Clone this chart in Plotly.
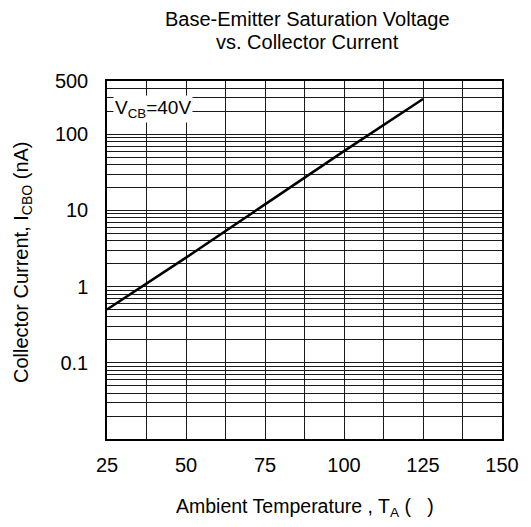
import plotly.graph_objects as go

# Data
temperature = [25, 50, 75, 100, 125]          # Ambient temperature (°C)
icbo_na = [0.5, 2.4, 12, 60, 290]              # Collector cutoff current (nA)

x_tick_vals = [25, 50, 75, 100, 125, 150]
x_minor_vals = [37.5, 62.5, 87.5, 112.5, 137.5]
y_tick_vals = [0.1, 1, 10, 100, 500]
y_tick_text = ["0.1", "1", "10", "100", "500"]
y_minor_vals = [m * 10 ** e for e in range(-2, 3) for m in range(2, 10) if m * 10 ** e <= 500]

title_lines = ["Base-Emitter Saturation Voltage", "vs. Collector Current"]
x_title = "Ambient Temperature , T<sub>A</sub> (   )"
y_title = "Collector Current, I<sub>CBO</sub> (nA)"

FONT = "Liberation Sans, Arial, sans-serif"
GRID = "#1a1a1a"

fig = go.Figure()
fig.add_trace(go.Scatter(
    x=temperature, y=icbo_na, mode="lines",
    line=dict(color="black", width=2.5),
    showlegend=False, hoverinfo="skip",
))

fig.add_annotation(
    x=25, y=2.335, xref="x", yref="y",
    text="V<sub>CB</sub>=40V", showarrow=False,
    xanchor="left", yanchor="middle", xshift=6,
    bgcolor="white", borderpad=1,
    font=dict(family=FONT, size=19, color="black"),
)

# Title lines
for i, line in enumerate(title_lines):
    fig.add_annotation(
        x=0.5, y=1, xref="paper", yref="paper", xshift=3, yshift=62 - 23 * i,
        text=line, showarrow=False, xanchor="center", yanchor="middle",
        font=dict(family=FONT, size=20, color="black"),
    )

# Axis titles
fig.add_annotation(
    x=0.5, y=0, xref="paper", yref="paper", yshift=-68,
    text=x_title, showarrow=False, xanchor="center", yanchor="middle",
    font=dict(family=FONT, size=19.5, color="black"),
)
fig.add_annotation(
    x=0, y=0.5, xref="paper", yref="paper", xshift=-85, yshift=-2,
    text=y_title, showarrow=False, xanchor="center", yanchor="middle", textangle=-90,
    font=dict(family=FONT, size=20, color="black"),
)

# The page body adds an 8px offset, so the figure is sized to fit the window.
fig.update_layout(
    width=523, height=511,
    margin=dict(l=99, r=19, t=73, b=80),
    paper_bgcolor="white", plot_bgcolor="white",
    font=dict(family=FONT, size=20, color="black"),
)

fig.update_xaxes(
    range=[25, 150], tickvals=x_tick_vals, ticks="",
    showgrid=True, gridcolor=GRID, gridwidth=1,
    minor=dict(tickvals=x_minor_vals, showgrid=True, gridcolor=GRID, gridwidth=1, ticks=""),
    showline=True, linecolor="black", linewidth=1.5, mirror=True,
    zeroline=False, ticklabelstandoff=7, ticklabeloverflow="allow",
    tickfont=dict(family=FONT, size=20),
)

fig.update_yaxes(
    type="log", range=[-2, 2.69897], tickvals=y_tick_vals, ticktext=y_tick_text, ticks="",
    showgrid=True, gridcolor=GRID, gridwidth=1,
    minor=dict(tickvals=y_minor_vals, showgrid=True, gridcolor=GRID, gridwidth=1, ticks=""),
    showline=True, linecolor="black", linewidth=1.5, mirror=True,
    zeroline=False, ticklabelstandoff=13,
    tickfont=dict(family=FONT, size=20),
)

fig.write_html("out.html")
